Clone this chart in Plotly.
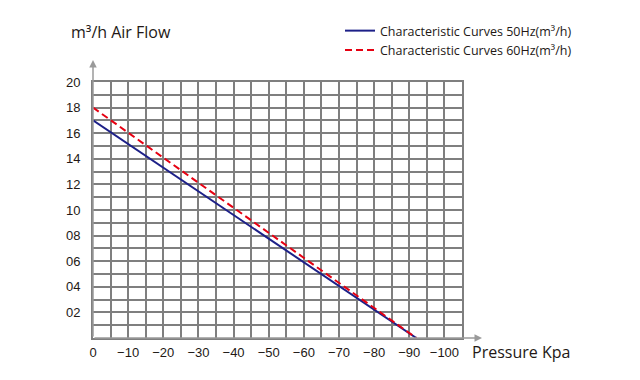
import plotly.graph_objects as go

pressure = [0, -92]
flow_50hz = [17, 0]
flow_60hz = [18, 0]

x_tickvals = [0, -10, -20, -30, -40, -50, -60, -70, -80, -90, -100]
x_ticktext = ["0", "−10", "−20", "−30", "−40", "−50", "−60", "−70", "−80", "−90", "−100"]
y_tickvals = [2, 4, 6, 8, 10, 12, 14, 16, 18, 20]
y_ticktext = ["02", "04", "06", "08", "10", "12", "14", "16", "18", "20"]

GRID = "#7f7f7f"
TXT = "#231815"
ARROW = "#9a9a9a"

fig = go.Figure()
fig.add_trace(go.Scatter(x=pressure, y=flow_50hz, mode="lines",
                         name="Characteristic Curves 50Hz(m³/h)",
                         line=dict(color="#1d2088", width=2)))
fig.add_trace(go.Scatter(x=pressure, y=flow_60hz, mode="lines",
                         name="Characteristic Curves 60Hz(m³/h)",
                         line=dict(color="#e60012", width=2, dash="7px,4px")))

fig.update_layout(
    width=640, height=380,
    margin=dict(l=93, r=178, t=82, b=42, autoexpand=False),
    paper_bgcolor="white", plot_bgcolor="white",
    font=dict(family="Open Sans, Noto Sans, sans-serif", color=TXT),
    legend=dict(x=(340 - 93) / 369, y=1 + (82 - 16) / 256, xanchor="left", yanchor="top",
                font=dict(size=12.5, color=TXT), bgcolor="rgba(0,0,0,0)",
                tracegroupgap=0, itemwidth=30),
    showlegend=True,
)
fig.update_xaxes(range=[0, -105], tickvals=x_tickvals, ticktext=x_ticktext,
                 showgrid=True, gridcolor=GRID, gridwidth=2, zeroline=False,
                 showline=True, mirror=True, linecolor=GRID, linewidth=2,
                 ticks="", ticklabelstandoff=1,
                 tickfont=dict(family="Liberation Sans, Arial, sans-serif", size=13, color=TXT),
                 minor=dict(tickvals=list(range(0, -106, -5)), showgrid=True,
                            gridcolor=GRID, gridwidth=2))
fig.update_yaxes(range=[0, 20], tickvals=y_tickvals, ticktext=y_ticktext,
                 showgrid=True, gridcolor=GRID, gridwidth=2, zeroline=False,
                 showline=True, mirror=True, linecolor=GRID, linewidth=2,
                 ticks="", ticklabelstandoff=8,
                 tickfont=dict(family="Liberation Sans, Arial, sans-serif", size=13, color=TXT),
                 minor=dict(dtick=1, showgrid=True, gridcolor=GRID, gridwidth=2))

# axis arrows
fig.add_annotation(xref="paper", yref="paper", x=0, y=1 + (82 - 60) / 256,
                   ax=0, ay=(338 - 60), axref="pixel", ayref="pixel", text="",
                   showarrow=True, arrowhead=2, arrowsize=1, arrowwidth=1.5, arrowcolor=ARROW)
fig.add_annotation(xref="paper", yref="paper", x=1 + (482 - 462) / 369, y=0,
                   ax=-(482 - 93), ay=0, text="",
                   showarrow=True, arrowhead=2, arrowsize=1, arrowwidth=1.5, arrowcolor=ARROW)

fig.add_annotation(xref="paper", yref="paper", x=(69 - 93) / 369, y=1 + (82 - 32) / 256,
                   xanchor="left", yanchor="middle", showarrow=False,
                   text="m³/h Air Flow", font=dict(size=16, color=TXT))
fig.add_annotation(xref="paper", yref="paper", x=(470 - 93) / 369, y=-(352 - 338) / 256,
                   xanchor="left", yanchor="middle", showarrow=False,
                   text="Pressure Kpa", font=dict(size=16, color=TXT))

fig.write_html("out.html", config={"displayModeBar": False},
               post_script="document.body.style.margin='0';")
